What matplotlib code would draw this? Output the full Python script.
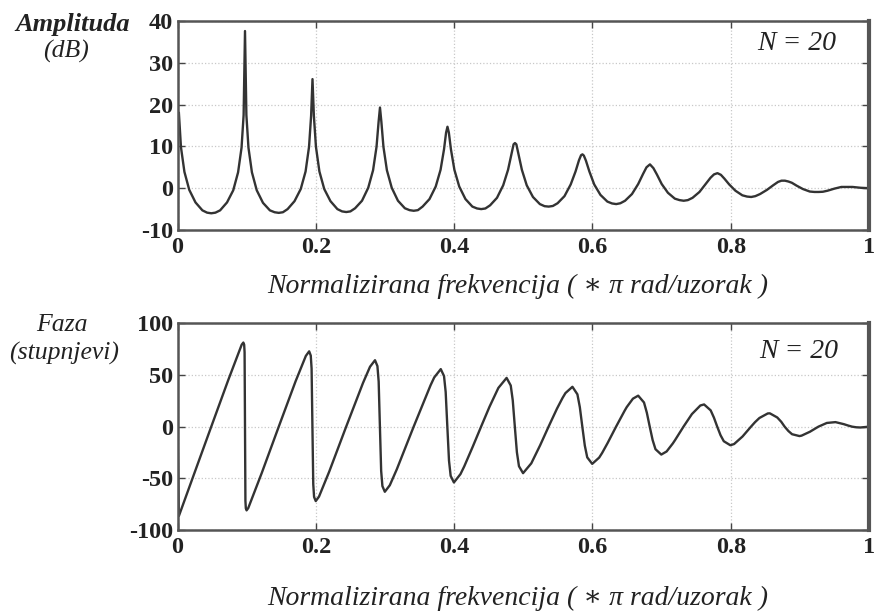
import matplotlib.pyplot as plt

# amplitude response of the comb filter (dB), normalised frequency
amp_freq = [0.002, 0.005, 0.010, 0.017, 0.026, 0.036, 0.0428, 0.0488, 0.0548,
            0.0616, 0.0716, 0.0806, 0.0876, 0.0926, 0.0956, 0.0976, 0.0996, 0.1026,
            0.1076, 0.1146, 0.1236, 0.1336, 0.1404, 0.1464, 0.1524,
            0.1592, 0.1692, 0.1782, 0.1852, 0.1902, 0.1932, 0.1952, 0.1972, 0.2002,
            0.2052, 0.2122, 0.2212, 0.2312, 0.2380, 0.2440, 0.2500,
            0.2568, 0.2668, 0.2758, 0.2828, 0.2878, 0.2908, 0.2928, 0.2948, 0.2978,
            0.3028, 0.3098, 0.3188, 0.3288, 0.3356, 0.3416, 0.3476,
            0.3544, 0.3644, 0.3734, 0.3804, 0.3854, 0.3884, 0.3904, 0.3924, 0.3954,
            0.4004, 0.4074, 0.4164, 0.4264, 0.4332, 0.4392, 0.4452,
            0.4520, 0.4620, 0.4710, 0.4780, 0.4830, 0.4860, 0.4880, 0.4900, 0.4930,
            0.4980, 0.5050, 0.5140, 0.5240, 0.5308, 0.5368, 0.5428,
            0.5496, 0.5596, 0.5686, 0.5756, 0.5806, 0.5836, 0.5856, 0.5876, 0.5906,
            0.5956, 0.6026, 0.6116, 0.6216, 0.6284, 0.6344, 0.6404,
            0.6472, 0.6572, 0.6662, 0.6732, 0.6782, 0.6832, 0.6882, 0.6932,
            0.7002, 0.7092, 0.7192, 0.7260, 0.7320, 0.7380,
            0.7448, 0.7548, 0.7638, 0.7708, 0.7758, 0.7808, 0.7858, 0.7908,
            0.7978, 0.8068, 0.8168, 0.8236, 0.8296, 0.8356,
            0.8424, 0.8524, 0.8614, 0.8684, 0.8734, 0.8784, 0.8834, 0.8884,
            0.8954, 0.9044, 0.9144, 0.9212, 0.9272, 0.9332,
            0.9400, 0.9500, 0.9600, 0.9760, 0.9880, 1.0000]
amp_db = [18.0, 9.8, 3.9, -0.4, -3.4, -5.3, -5.85, -6.0, -5.85,
          -5.3, -3.4, -0.5, 3.8, 9.7, 17.5, 37.6, 17.5, 9.7,
          3.8, -0.5, -3.5, -5.3, -5.75, -5.9, -5.75,
          -5.0, -3.1, -0.2, 4.0, 9.9, 17.3, 26.1, 17.3, 9.9,
          4.0, -0.2, -3.1, -5.0, -5.55, -5.7, -5.55,
          -4.8, -3.0, 0.1, 4.3, 9.9, 15.9, 19.3, 15.9, 9.9,
          4.3, 0.1, -3.0, -4.8, -5.25, -5.4, -5.25,
          -4.4, -2.6, 0.4, 4.4, 9.3, 13.3, 14.7, 13.3, 9.3,
          4.4, 0.4, -2.6, -4.4, -4.85, -5.0, -4.85,
          -4.1, -2.3, 0.7, 4.4, 8.2, 10.5, 10.8, 10.5, 8.2,
          4.4, 0.7, -2.1, -3.8, -4.3, -4.4, -4.25,
          -3.6, -1.9, 0.9, 4.0, 6.7, 7.9, 8.1, 7.8, 6.6,
          4.0, 0.9, -1.6, -3.2, -3.65, -3.8, -3.6,
          -3.0, -1.4, 1.0, 3.4, 5.0, 5.7, 4.8, 3.3,
          1.0, -1.1, -2.5, -2.85, -3.0, -2.85,
          -2.3, -0.9, 1.0, 2.5, 3.3, 3.6, 3.2, 2.3,
          0.9, -0.6, -1.7, -2.0, -2.1, -1.9,
          -1.4, -0.4, 0.7, 1.5, 1.8, 1.8, 1.6, 1.3,
          0.6, -0.2, -0.8, -0.9, -0.9, -0.85,
          -0.6, -0.1, 0.3, 0.3, 0.1, 0.0]

# phase response (degrees)
phase_freq = [0.0, 0.002, 0.0244, 0.0488, 0.0732, 0.0928, 0.0952, 0.0964, 0.0970,
              0.0976, 0.0982, 0.0988, 0.0999, 0.1023, 0.1220, 0.1464, 0.1708,
              0.1856, 0.1904, 0.1927, 0.1939, 0.1951, 0.1963, 0.1975, 0.1999,
              0.2046, 0.2195, 0.2439, 0.2683, 0.2784, 0.2856, 0.2891, 0.2909,
              0.2927, 0.2945, 0.2963, 0.2998, 0.3070, 0.3171, 0.3415, 0.3659,
              0.3712, 0.3807, 0.3854, 0.3878, 0.3902, 0.3926, 0.3950, 0.3997,
              0.4092, 0.4146, 0.4268, 0.4390, 0.4512, 0.4640, 0.4759, 0.4819,
              0.4848, 0.4878, 0.4908, 0.4938, 0.4997, 0.5116, 0.5244, 0.5366,
              0.5488, 0.5568, 0.5610, 0.5711, 0.5783, 0.5818, 0.5854, 0.5890,
              0.5925, 0.5997, 0.6098, 0.6140, 0.6220, 0.6342, 0.6464, 0.6496,
              0.6586, 0.6662, 0.6746, 0.6787, 0.6829, 0.6871, 0.6912, 0.6996,
              0.7073, 0.7162, 0.7195, 0.7317, 0.7439, 0.7561, 0.7615, 0.7710,
              0.7757, 0.7805, 0.7853, 0.7900, 0.7995, 0.8049, 0.8171, 0.8293,
              0.8352, 0.8415, 0.8536, 0.8566, 0.8673, 0.8731, 0.8780, 0.8834,
              0.8887, 0.8994, 0.9024, 0.9146, 0.9208, 0.9268, 0.9390, 0.9515,
              0.9637, 0.9697, 0.9756, 0.9816, 0.9875, 1.0]
phase_deg = [0.0, -86.4, -45.0, 0.0, 44.8, 79.3, 81.4, 79.3, 72.0,
             0.0, -71.7, -79.0, -81.0, -78.8, -44.5, 0.0, 44.0,
             68.5, 72.9, 68.8, 56.2, 0.0, -55.6, -68.0, -72.0,
             -67.7, -43.3, 0.0, 42.4, 58.0, 64.3, 58.6, 43.6,
             0.0, -42.8, -57.5, -63.0, -56.7, -41.3, 0.0, 40.0,
             47.6, 55.7, 49.0, 33.5, 0.0, -32.8, -47.6, -54.0,
             -45.9, -38.5, -19.6, 0.0, 19.3, 37.5, 47.2, 39.8,
             25.5, 0.0, -24.8, -38.3, -45.0, -35.5, -18.0, 0.0,
             17.5, 27.8, 32.5, 38.6, 31.3, 18.9, 0.0, -18.3,
             -29.7, -36.0, -29.9, -25.5, -15.8, 0.0, 15.2, 18.9,
             27.1, 30.0, 23.4, 13.5, 0.0, -13.0, -21.8, -27.0,
             -24.0, -16.3, -13.0, 0.0, 12.2, 20.5, 21.5, 15.8,
             8.8, 0.0, -8.3, -14.1, -18.0, -16.8, -9.5, 0.0,
             4.4, 8.4, 12.8, 12.9, 8.9, 4.7, 0.0, -4.2,
             -7.3, -9.1, -8.7, -4.9, -2.4, 0.0, 3.6, 4.4,
             2.4, 1.1, 0.0, -0.6, -0.8, 0.0]

freq_ticks = [0, 0.2, 0.4, 0.6, 0.8, 1]
freq_labels = ['0', '0.2', '0.4', '0.6', '0.8', '1']
amp_ticks = [-10, 0, 10, 20, 30, 40]
phase_ticks = [-100, -50, 0, 50, 100]

serif = ['Liberation Serif', 'DejaVu Serif']
plt.rcParams['font.family'] = serif

fig = plt.figure(figsize=(8.74, 6.14), dpi=100)
ax1 = fig.add_axes([0.2031, 0.6254, 0.7912, 0.3404])
ax2 = fig.add_axes([0.2031, 0.1368, 0.7912, 0.3366])


def style(ax, yticks):
    ax.set_xlim(0, 1)
    ax.set_ylim(yticks[0], yticks[-1])
    ax.set_xticks(freq_ticks)
    ax.set_xticklabels(freq_labels)
    ax.set_yticks(yticks)
    ax.set_yticklabels([str(t) for t in yticks])
    ax.grid(True, color='#c8c8c8', linestyle=':', linewidth=0.9)
    ax.tick_params(direction='in', length=5, width=1, color='#444444',
                   top=True, right=True, labelsize=17.5)
    ax.tick_params(axis='x', pad=5)
    ax.tick_params(axis='y', pad=3)
    for lab in ax.get_xticklabels() + ax.get_yticklabels():
        lab.set_fontweight('bold')
        lab.set_color('#222222')
    for side, sp in ax.spines.items():
        sp.set_color('#555555')
        sp.set_linewidth(1.8)
    ax.spines['right'].set_linewidth(3)


ax1.plot(amp_freq, amp_db, color='#333333', linewidth=1.7)
style(ax1, amp_ticks)
ax2.plot(phase_freq, phase_deg, color='#333333', linewidth=1.7)
style(ax2, phase_ticks)

W, H = 874, 614


def ftext(x, y, s, **kw):
    fig.text(x / W, 1 - y / H, s, ha='center', va='center', style='italic',
             color='#222222', **kw)


xlabel = 'Normalizirana frekvencija ( ∗ π rad/uzorak )'
ftext(518, 286, xlabel, fontsize=20)
ftext(518, 598, xlabel, fontsize=20)

ftext(73, 24, 'Amplituda', fontsize=19, fontweight='bold')
ftext(66, 51, '(dB)', fontsize=18.5)
ftext(62, 325, 'Faza', fontsize=18.5)
ftext(64, 353, '(stupnjevi)', fontsize=18.5)

ftext(797, 43, 'N = 20', fontsize=20)
ftext(799, 352, 'N = 20', fontsize=20)

fig.savefig('out.png', dpi=100)
